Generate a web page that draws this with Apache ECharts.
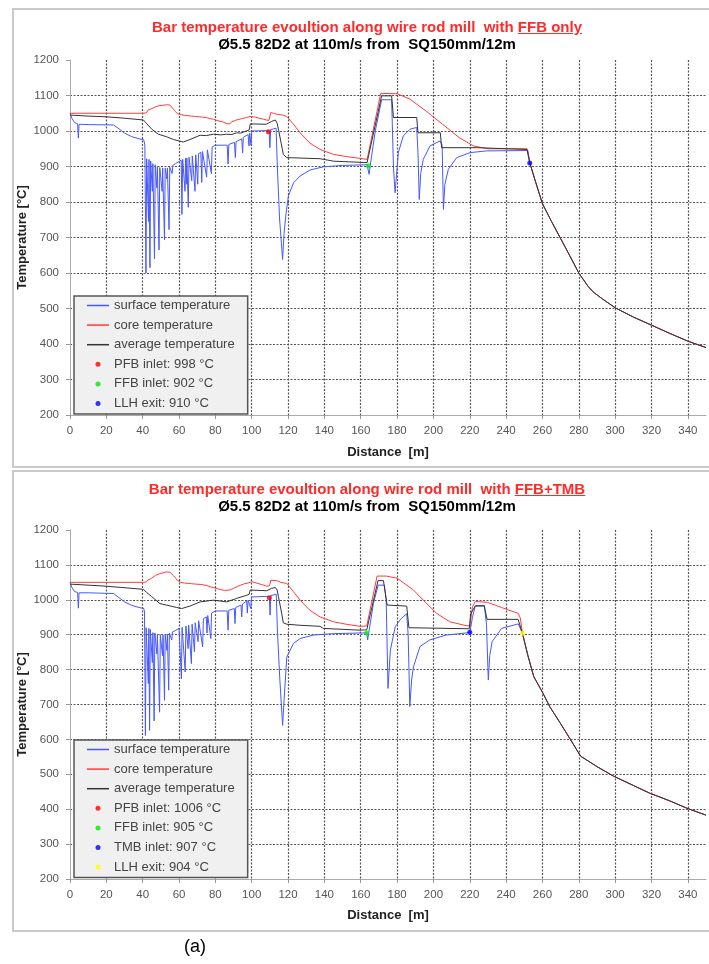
<!DOCTYPE html>
<html>
<head>
<meta charset="utf-8">
<script src="https://cdn.jsdelivr.net/npm/echarts@6/dist/echarts.min.js"></script>
<style>
  body { margin:0; width:709px; height:964px; background:#fff; position:relative; overflow:hidden; font-family:"Liberation Sans", Arial, sans-serif; }
  .chart { position:absolute; left:0; width:709px; height:470px; }
  .box { position:absolute; left:12px; width:720px; border:2px solid #cacaca; border-right:none; pointer-events:none; }
  .ttl { position:absolute; left:0; width:734px; text-align:center; font-weight:bold; font-size:15px; line-height:17px; white-space:pre; }
  .red { color:#ff2a2a; }
  .cap { position:absolute; left:165px; width:60px; top:935px; text-align:center; font-size:18px; line-height:22px; }
</style>
</head>
<body>
<div id="chartA" class="chart" style="top:0"></div>
<div id="chartB" class="chart" style="top:470px"></div>
<div class="box" style="top:8px;height:456px"></div>
<div class="box" style="top:470px;height:458px"></div>
<div class="ttl red" style="top:18px">Bar temperature evoultion along wire rod mill  with <u>FFB only</u></div>
<div class="ttl" style="top:35px">Ø5.5 82D2 at 110m/s from  SQ150mm/12m</div>
<div class="ttl red" style="top:480px">Bar temperature evoultion along wire rod mill  with <u>FFB+TMB</u></div>
<div class="ttl" style="top:497px">Ø5.5 82D2 at 110m/s from  SQ150mm/12m</div>
<div class="cap">(a)</div>
<script>
// 曲线名称
const lineNames = ['surface temperature', 'core temperature', 'average temperature']

// ---- 上图: FFB only ----
const surfaceA = [[0,1050],[1,1036],[2.5,1024],[4.2,1020],[4.6,980],[5,1019],[10,1018],[24,1017],[27,1006],[30,994],[34,984],[38,978],[40.6,975],
  [41.2,960],[41.8,600],[42.2,922],[42.8,925],[43.2,745],[43.5,920],[44,615],[44.4,915],[45,918],[45.3,830],[45.6,908],[46.5,640],[46.9,905],[47.4,902],[47.8,840],[48.1,900],[49,665],[49.4,897],[50.2,896],[50.7,830],[51,896],[52,693],[52.4,895],[53,895],[53.3,865],[53.6,896],[54.5,722],[54.9,898],[55.8,900],[56.2,880],[56.6,903],[58,908],[60,914],
  [61.2,918],[61.6,765],[62,920],[62.8,922],[63.3,830],[63.6,923],[64,850],[64.3,924],[65.1,785],[65.5,926],[66.5,928],[67,860],[67.3,930],[68.8,830],[69.2,933],[70.3,850],[70.7,936],[72,940],[72.5,855],[72.9,942],[75.2,870],[75.6,947],[77.8,880],[78.2,955],[80,960],
  [86.5,960],[87,907],[87.4,962],[90.5,968],[91,925],[91.4,970],[94.5,978],[95,938],[95.4,982],[98,990],[98.5,958],[98.9,994],[99.6,960],[100,1000],[108,1001],[109.6,1000],[110,953],[110.4,1004],[112,1006],[113.4,1008],
  [114.1,900],[115.3,755],[117,638],[117.8,712],[118.9,768],[120.2,817],[123,854],[126.6,873],[132,890],[139.4,899],[150,903],[163.5,905],
  [164.2,902],[164.6,878],[165.2,902],[168,1000],[171.5,1088],[177,1088],[178,900],[178.9,826],[180.7,939],[183.4,986],[187.1,1005],[190.8,1010],[191.5,940],[192.2,807],[193,880],[194.4,920],[198.1,958],[203.6,972],[204.8,960],[205.5,779],[206.3,850],[208.2,892],[212.8,925],[220.1,939],[229.3,944],[252,945]]
const coreA = [[0,1050],[40,1050],[41,1053],[42,1051],[43,1059],[44,1057],[45,1063],[46,1061],[47,1068],[48,1066],[49,1071],[50,1073],[51,1072],[52,1076],[53,1074],[54,1077],[55,1073],[56,1068],[57,1061],[58,1055],[59,1049],[60,1051],[61,1046],[62,1049],[63,1044],[64,1048],[65,1043],[66,1047],[67,1042],[68,1046],[69,1041],[70,1045],[71,1040],[72,1044],[73,1039],[74,1042],[75,1038],[76,1040],[77,1035],[78,1037],[79,1033],[80,1034],[82,1028],[84,1026],[86,1021],[87,1024],[88,1020],[89,1026],[90,1024],[91,1030],[92,1027],[93,1033],[94,1030],[95,1035],[96,1033],[97,1038],[98,1036],[99,1041],[100,1040],[102,1039],[104,1036],[106,1034],[108,1031],[109.5,1030],[110.5,1052],[112,1050],[114,1047],[117,1045],[119.3,1041],[123,1019],[126.6,995],[132,966],[137.6,948],[145,934],[152,928],[159.6,923],[163.5,920],
  [171,1106],[180,1105],[187,1090],[196,1056],[205,1019],[214,982],[222,958],[230,950],[251.5,950]]
const averageA = [[0,1045],[10,1042],[20,1040],[30,1036],[40.4,1031],[42,1022],[45,1005],[48.6,991],[53,984],[57,976],[60.5,971],[62.4,969],[66,976],[71.6,988],[75,987],[79,991],[83,989],[86,991],[89,990],[91.7,995],[94,994],[97,1000],[98.6,1003],[99.2,1020],[108,1019],[111,1027],[113,1031],[114,1022],[114.7,1005],[116.5,958],[117.4,934],[119.3,925],[137.6,922],[145,915],[163.5,911],
  [171.5,1099],[177,1099],[178,1038],[190.8,1038],[191.5,995],[203.8,995],[204.5,953],[223.8,953],[224.7,949],[251.5,948]]
const tailA = [[253,911],[256,860],[260,795],[265,745],[270,697],[275,649],[280,600],[285,563],[288,546],[293,527],[300,502],[310,476],[320,453],[330,430],[340,408],[350,390]]
const markerNamesA = ['PFB inlet: 998 °C', 'FFB inlet: 902 °C', 'LLH exit: 910 °C']
const markerPointsA = [[109.2,998],[164.2,902],[253,910]]

// ---- 下图: FFB+TMB ----
const surfaceB = [[0,1050],[1,1036],[2.5,1024],[4.2,1021],[4.6,976],[5,1020],[10,1020],[24,1018],[27,1006],[30,994],[34,984],[38,978],[40.6,975],
  [41,965],[41.5,611],[41.9,920],[42.8,922],[43.1,760],[43.4,918],[43.8,626],[44.2,915],[45,912],[45.3,820],[45.6,906],[46.3,653],[46.7,905],[47.4,902],[47.8,845],[48.1,900],[49.3,678],[49.7,900],[50.5,898],[50.9,840],[51.2,899],[52,712],[52.4,900],[53,900],[53.3,855],[53.6,902],[54.3,741],[54.7,905],[55.6,906],[56,885],[56.4,908],[58,912],[60,918],
  [60.9,920],[61.3,774],[61.7,921],[62.5,923],[63.4,793],[63.8,925],[64.6,926],[65,860],[65.3,927],[66.8,817],[67.2,930],[68.5,851],[68.9,934],[70,937],[70.5,880],[70.8,940],[73,865],[73.4,946],[75,951],[75.4,905],[75.8,955],[77.5,889],[77.9,962],[80,968],
  [86.5,968],[87,913],[87.4,970],[90.4,975],[90.8,932],[91.2,978],[94.1,985],[94.5,951],[94.9,988],[97.2,996],[97.6,962],[98,999],[99.1,1004],[99.5,975],[99.9,1008],[101,1011],[108.5,1010],[109.7,1009],[110.1,956],[110.5,1012],[112,1014],[113.5,1016],
  [114.2,905],[115.5,770],[117,640],[117.8,712],[119.3,836],[123,875],[126.6,889],[134,899],[145,903],[160,905],[163.3,905],
  [163.8,885],[164.3,902],[167,990],[169.6,1042],[173,1042],[174,1000],[175,746],[176.3,856],[179,923],[182,945],[185.3,960],[186.1,900],[187,694],[188,770],[189,808],[192.6,866],[198,885],[207,899],[220,906],
  [221.5,950],[223,983],[228,984],[229.2,930],[230.2,770],[231,840],[232.3,880],[237.5,918],[246.7,931],[247.6,928]]
const coreB = [[0,1050],[40,1050],[41,1052],[42,1051],[43,1057],[44,1058],[45,1062],[46,1064],[47,1070],[48,1069],[49,1074],[50,1073],[51,1077],[52,1076],[53,1080],[54,1078],[55,1079],[56,1074],[57,1069],[58,1063],[59,1056],[60,1052],[61,1050],[62,1053],[63,1048],[64,1051],[65,1047],[66,1050],[67,1046],[68,1049],[69,1045],[70,1047],[72,1044],[73,1046],[75,1041],[76,1043],[78,1036],[79,1035],[81,1032],[83,1029],[85,1027],[86,1025],[88,1028],[89,1026],[90,1033],[91,1031],[92,1038],[93,1036],[94,1042],[95,1040],[96,1046],[97,1045],[98,1048],[99,1046],[100,1052],[102,1049],[104.6,1045],[106,1043],[108.3,1039],[109.8,1040],[110.5,1056],[113.8,1055],[116,1050],[119.3,1047],[123,1023],[126.6,999],[132,970],[137.6,951],[145,937],[152,930],[159.6,924],[163.3,925],
  [169,1068],[174,1068],[180,1062],[189,1028],[194.4,999],[201.8,961],[209,937],[218,926],[220,925],[221.5,980],[223,995],[229.6,993],[237.5,978],[246.7,961],[247.8,948]]
const averageB = [[0,1045],[20,1039],[40.4,1030],[42,1022],[45,1009],[49.5,989],[53,985],[58.7,978],[61.5,975],[66,982],[71.6,994],[79,999],[86.2,994],[91.7,1004],[97.2,1013],[98.6,1016],[99.2,1028],[108.3,1026],[111,1033],[113,1035],[114,1028],[114.7,1009],[116.5,961],[117.4,934],[119.3,930],[126.6,927],[137.6,924],[139.4,918],[159.6,913],[163.3,914],
  [169.5,1055],[172.5,1055],[174.5,985],[185.3,982],[186.5,920],[219.7,917],[220.5,960],[223,982],[228,982],[229.5,944],[246.6,944]]
const tailB = [[249,904],[252,840],[255.2,780],[260,735],[264,694],[270,645],[275,603],[281,552],[290,522],[299,495],[310,468],[319,446],[330,424],[339.4,403],[350,383]]
const markerNamesB = ['PFB inlet: 1006 °C', 'FFB inlet: 905 °C', 'TMB inlet: 907 °C', 'LLH exit: 904 °C']
const markerPointsB = [[109.7,1006],[163.3,905],[220,907],[249,904]]

const drawEcharts = (option, id) => {
  let dom = document.getElementById(id)
  if (dom === null) return
  let echart = echarts.init(dom)
  option && echart.setOption(option)
}

// 温度曲线图
const tempChart = (data, id, config) => {
  const gridLine = { show:true, showMinLine:false, showMaxLine:false, lineStyle:{ color:'#555', width:1.2, type:[2,1.5] } }
  const nameStyle = { fontWeight:'bold', fontSize:13, color:'#222', fontFamily:'Liberation Sans' }
  const labelStyle = { fontSize:11.5, color:'#555', fontFamily:'Liberation Sans' }
  const lines = data.lines.map((v, i) => ({
    type:'line',
    name:lineNames[i],
    data:v.concat(data.tail),
    symbol:'none',
    z:2 + i,
    lineStyle:{ color:config.lineColors[i], width:1 },
    itemStyle:{ color:config.lineColors[i] }
  }))
  const dots = data.markerPoints.map((p, i) => ({
    type:'scatter',
    name:data.markerNames[i],
    data:[p],
    symbolSize:5,
    z:10,
    itemStyle:{ color:config.markerColors[i] }
  }))
  // 图例: 线条用细横线图标, 点用圆点
  const legendData = lineNames.map(n => ({ name:n, icon:'path://M0,0H22V1.5H0Z' }))
    .concat(data.markerNames.map(n => ({ name:n, icon:'circle' })))
  const option = {
    animation:false,
    grid:{ left:70, top:60, width:636, height:config.height },
    legend:{
      orient:'vertical',
      left:74,
      top:config.legendTop,
      data:legendData,
      itemWidth:22,
      itemHeight:5,
      itemGap:4.6,
      padding:[2, 13, 3, 13],
      backgroundColor:'#f0f0f0',
      borderColor:'#555',
      borderWidth:1.5,
      textStyle:{ fontSize:13, lineHeight:15, color:'#444', fontFamily:'Liberation Sans' }
    },
    xAxis:{
      type:'value',
      min:0,
      max:350,
      interval:20,
      name:'Distance  [m]',
      nameLocation:'middle',
      nameGap:config.xNameGap,
      nameMoveOverlap:false,
      nameTextStyle:nameStyle,
      axisLine:{ show:true, lineStyle:{ color:'#aaa' } },
      axisTick:{ show:true, length:4, lineStyle:{ color:'#999' } },
      axisLabel:Object.assign({ showMaxLabel:false, margin:10 }, labelStyle),
      splitLine:gridLine
    },
    yAxis:{
      type:'value',
      min:200,
      max:1200,
      interval:100,
      name:'Temperature [°C]',
      nameLocation:'middle',
      nameGap:41,
      nameMoveOverlap:false,
      nameTextStyle:nameStyle,
      axisLine:{ show:true, lineStyle:{ color:'#aaa' } },
      axisTick:{ show:true, length:4, lineStyle:{ color:'#999' } },
      axisLabel:Object.assign({ margin:11, formatter:v => String(v) }, labelStyle),
      splitLine:gridLine
    },
    series:lines.concat(dots)
  }
  drawEcharts(option, id)
}

const lineColors = ['#4657ff', '#ff3b3b', '#333333']

tempChart(
  { lines:[surfaceA, coreA, averageA], tail:tailA, markerNames:markerNamesA, markerPoints:markerPointsA },
  'chartA',
  { height:355, legendTop:296, xNameGap:31, lineColors, markerColors:['#ff0000', '#00ee00', '#0000ff'] }
)
tempChart(
  { lines:[surfaceB, coreB, averageB], tail:tailB, markerNames:markerNamesB, markerPoints:markerPointsB },
  'chartB',
  { height:349, legendTop:270, xNameGap:30, lineColors, markerColors:['#ff0000', '#00ee00', '#0000ff', '#ffff00'] }
)
</script>
</body>
</html>
